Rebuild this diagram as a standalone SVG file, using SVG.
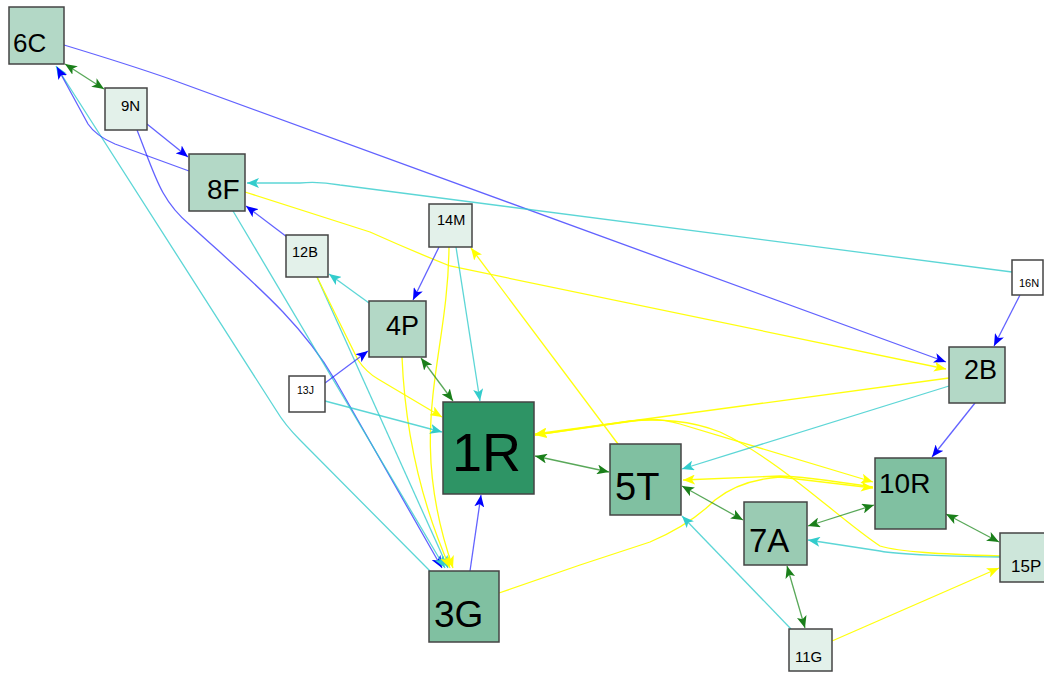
<svg xmlns="http://www.w3.org/2000/svg" width="1044" height="673" viewBox="0 0 1044 673">
  <defs>
    <style>
      .node rect { stroke: #444444; stroke-width: 1.5; }
      .node text { font-family: "Liberation Sans", Arial, sans-serif; fill: #000000; }
      .e { fill: none; stroke-width: 1.3; }
      .blue { stroke: #2020ff; stroke-opacity: 0.7; marker-end: url(#ah-blue); }
      .cyan { stroke: #33cccc; stroke-opacity: 0.8; marker-end: url(#ah-cyan); }
      .yellow { stroke: #ffff00; stroke-opacity: 0.95; marker-end: url(#ah-yellow); }
      .green { stroke: #228b22; stroke-opacity: 0.75; marker-start: url(#ah-green); marker-end: url(#ah-green); }
      .plain { marker-end: none; }
      .c1 { fill: #ffffff; }
      .c2 { fill: #e3f1ea; }
      .c3 { fill: #cde6da; }
      .c4 { fill: #b3d8c6; }
      .c5 { fill: #9acbb3; }
      .c6 { fill: #80c0a1; }
      .c7 { fill: #2e9465; }
    </style>
    <marker id="ah-blue" viewBox="0 0 12 10" refX="12" refY="5" markerWidth="12" markerHeight="10" markerUnits="userSpaceOnUse" orient="auto-start-reverse">
      <path d="M0,0 L12,5 L0,10 L3,5 Z" fill="#0000ff"/>
    </marker>
    <marker id="ah-cyan" viewBox="0 0 12 10" refX="12" refY="5" markerWidth="12" markerHeight="10" markerUnits="userSpaceOnUse" orient="auto-start-reverse">
      <path d="M0,0 L12,5 L0,10 L3,5 Z" fill="#33cccc"/>
    </marker>
    <marker id="ah-yellow" viewBox="0 0 12 10" refX="12" refY="5" markerWidth="12" markerHeight="10" markerUnits="userSpaceOnUse" orient="auto-start-reverse">
      <path d="M0,0 L12,5 L0,10 L3,5 Z" fill="#ffff00"/>
    </marker>
    <marker id="ah-green" viewBox="0 0 12 10" refX="12" refY="5" markerWidth="12" markerHeight="10" markerUnits="userSpaceOnUse" orient="auto-start-reverse">
      <path d="M0,0 L12,5 L0,10 L3,5 Z" fill="#1a7f1a"/>
    </marker>
  </defs>

  <rect x="0" y="0" width="1044" height="673" fill="#ffffff"/>

  <g id="connectors">
    <!-- long-range links -->
    <path class="e blue" d="M64,45 Q130,65 170,79 L946,362"/>
    <path class="e cyan" d="M1012,272 L340,185 Q318,181 300,183 L247,183"/>
    <path class="e yellow" d="M245,192 L370,232 Q410,250 450,266 L946,369"/>
    <path class="e cyan" d="M430,571 L300,440 Q285,425 276,410 L56,66"/>
    <path class="e blue" d="M189,171 L115,144 Q96,136 88,124 L57,67"/>
    <path class="e blue" d="M137,130 C155,175 160,200 190,225 C250,280 300,320 335,380 L442,568"/>
    <path class="e cyan" d="M233,211 L445,568"/>
    <path class="e cyan" d="M317,277 L448,568"/>
    <path class="e yellow" d="M317,277 L358,360 Q366,372 378,379 L442,417"/>
    <path class="e yellow" d="M402,357 C405,430 420,500 450,568"/>
    <path class="e yellow" d="M449,247 C448,360 405,430 453,568"/>

    <!-- upper-left cluster -->
    <path class="e green" d="M65,64 L104,89"/>
    <path class="e blue" d="M147,124 L188,157"/>
    <path class="e blue" d="M287,237 L246,206"/>
    <path class="e cyan" d="M369,303 L329,274"/>
    <path class="e blue" d="M439,247 L413,300"/>
    <path class="e cyan" d="M456,247 L480,401"/>
    <path class="e green" d="M421,358 L453,401"/>
    <path class="e blue" d="M325,383 L368,351"/>
    <path class="e cyan" d="M325,401 L442,432"/>
    <path class="e blue" d="M470,571 L481,495"/>

    <!-- centre and right -->
    <path class="e green" d="M535,456 L609,472"/>
    <path class="e yellow" d="M618,444 L471,248"/>
    <path class="e yellow" d="M949,378 L535,434"/>
    <path class="e yellow" d="M1000,556 C940,554 900,552 880,546 C840,520 780,460 720,432 C690,420 660,419 630,421 L535,435"/>
    <path class="e yellow" d="M535,435 L640,420 Q660,418 680,424 L873,482"/>
    <path class="e yellow" d="M499,593 L580,565 L650,542 Q690,525 715,500 Q740,480 780,477 L873,488"/>
    <path class="e yellow" d="M873,487 Q800,476 780,476 L683,480"/>
    <path class="e cyan" d="M949,386 L682,469"/>
    <path class="e blue" d="M975,403 L932,457"/>
    <path class="e blue" d="M1020,295 L994,346"/>
    <path class="e green" d="M682,486 L743,520"/>
    <path class="e green" d="M808,526 L874,505"/>
    <path class="e green" d="M946,514 L999,542"/>
    <path class="e green" d="M787,566 L805,628"/>
    <path class="e cyan" d="M791,629 L682,516"/>
    <path class="e yellow" d="M832,641 L999,568"/>
    <path class="e cyan" d="M1000,557 C950,556 900,555 880,551 L808,540"/>
  </g>

  <g id="node-6C" class="node"><rect class="c4" x="9" y="7" width="55" height="57"/><text x="13" y="52" font-size="26">6C</text></g>
  <g id="node-9N" class="node"><rect class="c2" x="105" y="88" width="42" height="42"/><text x="121" y="111" font-size="15">9N</text></g>
  <g id="node-8F" class="node"><rect class="c4" x="189" y="154" width="56" height="57"/><text x="207" y="199" font-size="28">8F</text></g>
  <g id="node-12B" class="node"><rect class="c2" x="286" y="235" width="42" height="42"/><text x="292" y="257" font-size="14.5">12B</text></g>
  <g id="node-14M" class="node"><rect class="c2" x="429" y="204" width="43" height="43"/><text x="437" y="225" font-size="14.5">14M</text></g>
  <g id="node-4P" class="node"><rect class="c4" x="369" y="301" width="57" height="56"/><text x="386" y="335" font-size="27">4P</text></g>
  <g id="node-13J" class="node"><rect class="c1" x="289" y="376" width="36" height="36"/><text x="297" y="394" font-size="10.5">13J</text></g>
  <g id="node-1R" class="node"><rect class="c7" x="443" y="402" width="91" height="92"/><text x="452" y="471" font-size="54">1R</text></g>
  <g id="node-5T" class="node"><rect class="c6" x="610" y="444" width="71" height="71"/><text x="615" y="500" font-size="38">5T</text></g>
  <g id="node-7A" class="node"><rect class="c5" x="744" y="502" width="63" height="63"/><text x="749" y="552" font-size="33">7A</text></g>
  <g id="node-10R" class="node"><rect class="c6" x="875" y="458" width="71" height="71"/><text x="879" y="493" font-size="28">10R</text></g>
  <g id="node-15P" class="node"><rect class="c3" x="1000" y="533" width="49" height="49"/><text x="1011" y="572" font-size="17">15P</text></g>
  <g id="node-11G" class="node"><rect class="c2" x="789" y="629" width="43" height="42"/><text x="795" y="662" font-size="15">11G</text></g>
  <g id="node-16N" class="node"><rect class="c1" x="1012" y="260" width="31" height="35"/><text x="1019" y="287" font-size="11">16N</text></g>
  <g id="node-2B" class="node"><rect class="c4" x="949" y="347" width="56" height="56"/><text x="964" y="379" font-size="27">2B</text></g>
  <g id="node-3G" class="node"><rect class="c6" x="429" y="571" width="70" height="71"/><text x="434" y="627" font-size="37">3G</text></g>
</svg>
